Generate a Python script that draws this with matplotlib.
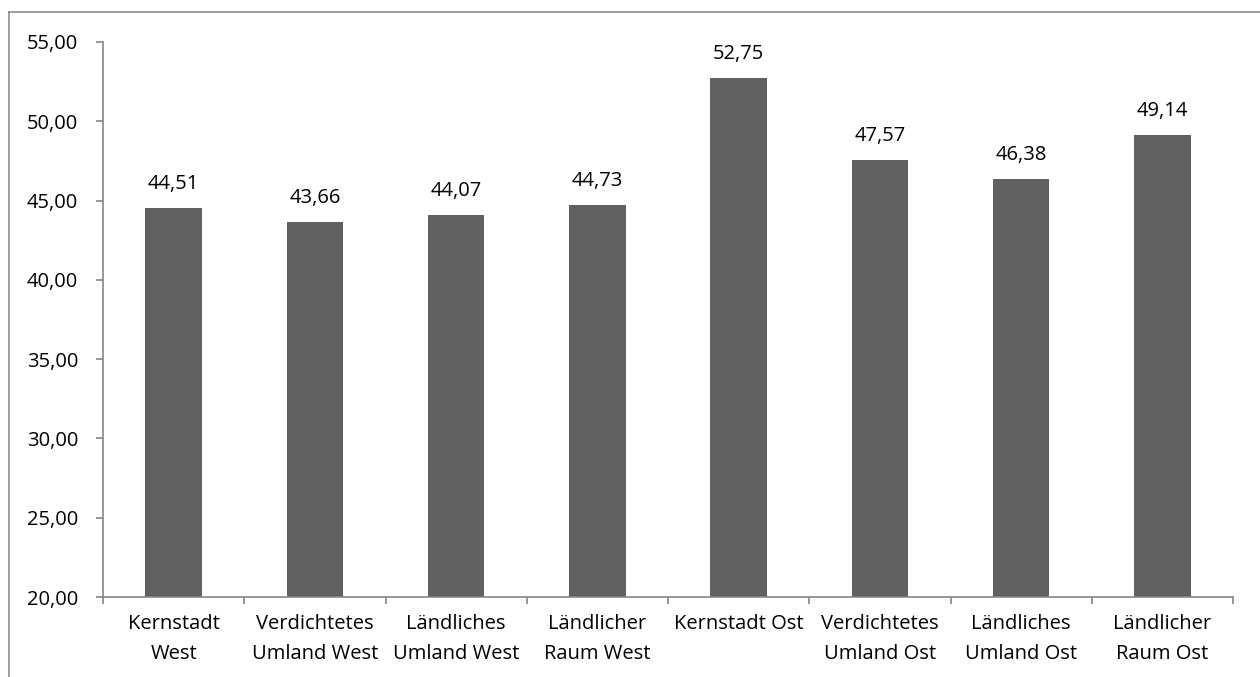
import numpy as np
import matplotlib.pyplot as plt
from matplotlib.lines import Line2D

categories = ["Kernstadt\nWest", "Verdichtetes\nUmland West", "Ländliches\nUmland West",
              "Ländlicher\nRaum West", "Kernstadt Ost", "Verdichtetes\nUmland Ost",
              "Ländliches\nUmland Ost", "Ländlicher\nRaum Ost"]
values = [44.51, 43.66, 44.07, 44.73, 52.75, 47.57, 46.38, 49.14]
y_ticks = [20, 25, 30, 35, 40, 45, 50, 55]

plt.rcParams['font.family'] = ['Open Sans', 'DejaVu Sans']
fs = 14.5

W, H = 1260, 677
fig = plt.figure(figsize=(12.6, 6.77), dpi=100)
ax = fig.add_axes([103 / W, 1 - 597 / H, 1130 / W, (597 - 42) / H])

x = np.arange(len(values))
ax.bar(x, values, width=0.4, color="#606060", zorder=2)
for xi, v in zip(x, values):
    ax.text(xi, v + 1.2, f"{v:.2f}".replace(".", ","), ha="center", va="baseline", fontsize=fs)

ax.set_xlim(-0.5, len(values) - 0.5)
ax.set_ylim(20, 55)
ax.set_yticks(y_ticks)
ax.set_yticklabels([f"{t:.2f}".replace(".", ",") for t in y_ticks], fontsize=fs)
ax.set_xticks(x)
ax.set_xticklabels(categories, fontsize=fs, linespacing=1.7)
ax.set_xticks(np.arange(len(values) + 1) - 0.5, minor=True)
ax.tick_params(axis="x", which="major", length=0, pad=12)
ax.tick_params(axis="x", which="minor", length=5, color="#868686", width=1.2)
ax.tick_params(axis="y", length=5, color="#868686", width=1.2, pad=13)

for s in ["top", "right"]:
    ax.spines[s].set_visible(False)
for s in ["left", "bottom"]:
    ax.spines[s].set_color("#868686")
    ax.spines[s].set_linewidth(1.2)

# outer chart border (top and left visible)
fig.add_artist(Line2D([9 / W, 1], [1 - 12 / H, 1 - 12 / H], color="#8c8c8c", lw=1.2))
fig.add_artist(Line2D([9 / W, 9 / W], [0, 1 - 12 / H], color="#8c8c8c", lw=1.2))

fig.savefig("out.png", dpi=100)
